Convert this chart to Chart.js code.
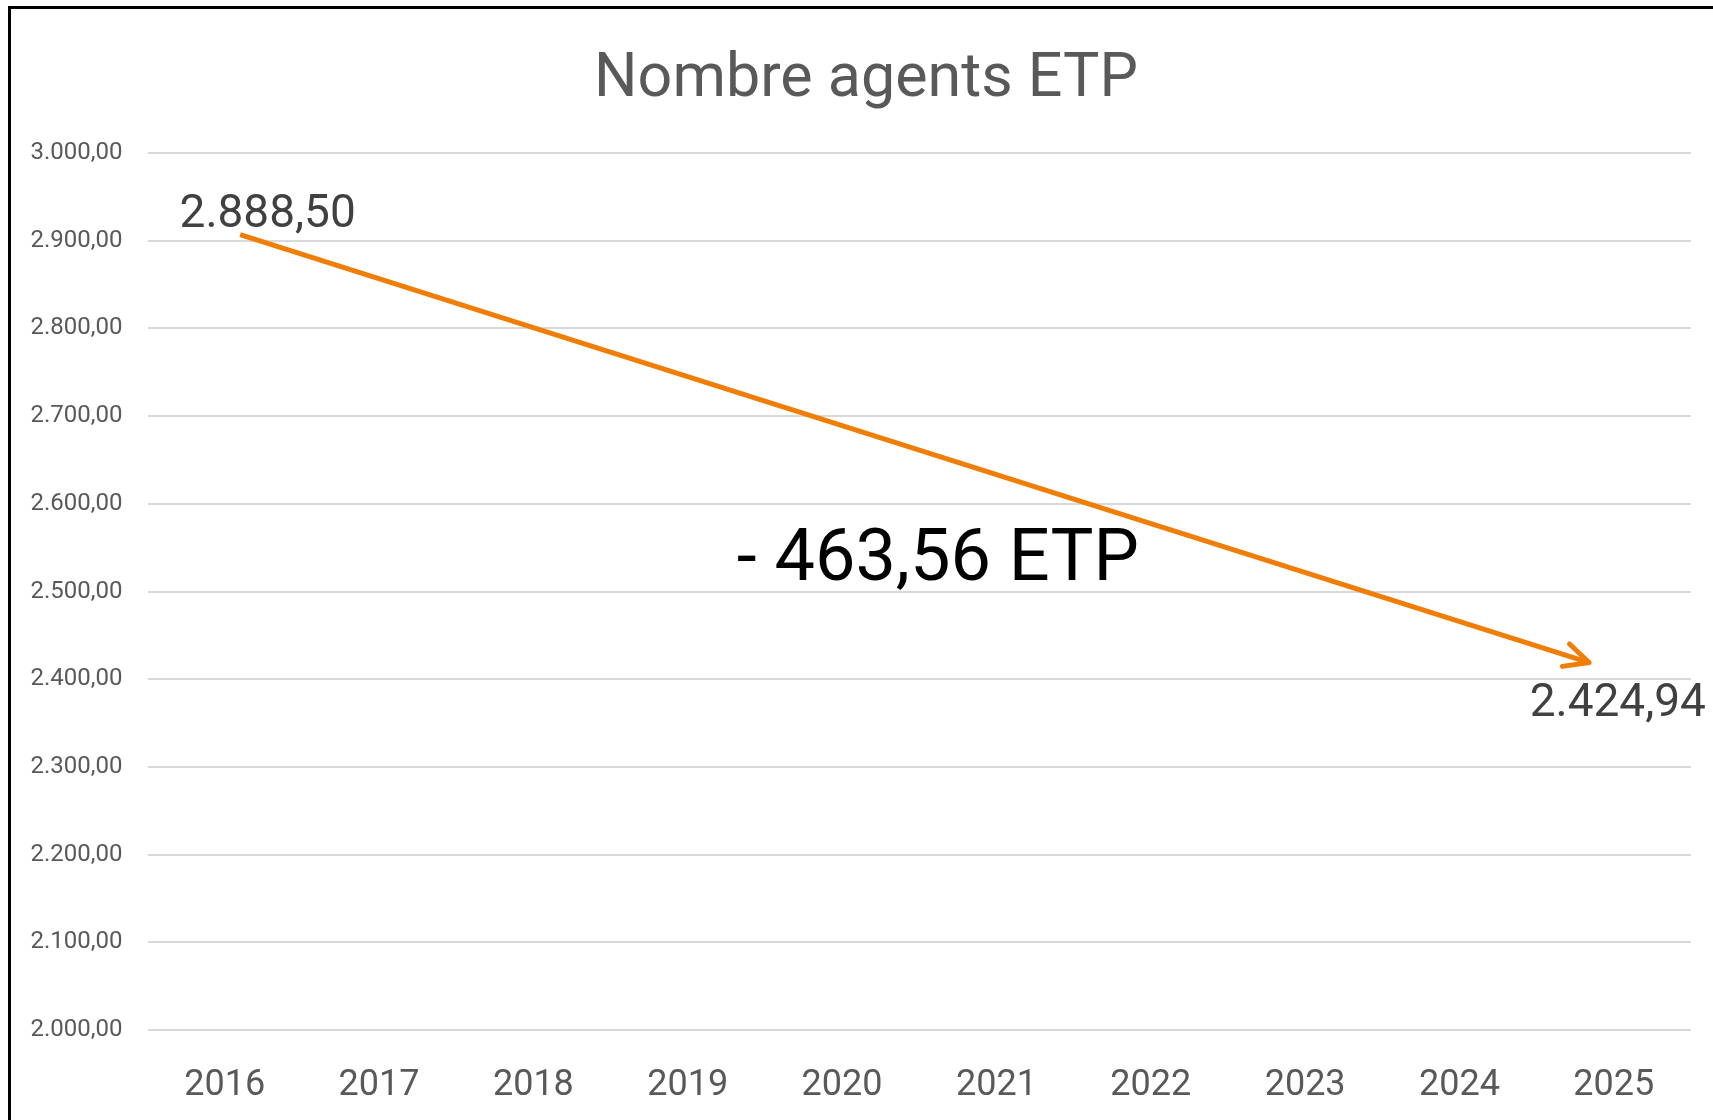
<!DOCTYPE html>
<html lang="fr">
<head>
<meta charset="utf-8">
<title>Nombre agents ETP</title>
<script src="https://cdn.jsdelivr.net/npm/chart.js@4.4.1/dist/chart.umd.min.js"></script>
<style>
  html, body { margin: 0; padding: 0; background: #fff; overflow: hidden; }
  body { width: 1713px; height: 1120px; position: relative; }
  #frame {
    position: absolute; left: 8px; top: 6px; right: 0; bottom: 0;
    border-left: 3px solid #000; border-top: 3px solid #000;
  }
  #chart { display: block; }
</style>
</head>
<body>
<div id="frame"><canvas id="chart"></canvas></div>
<script>
const years = ["2016", "2017", "2018", "2019", "2020", "2021", "2022", "2023", "2024", "2025"];
// only the first and last year carry a value
const etp = [2888.50, null, null, null, null, null, null, null, null, 2424.94];
const yTicks = [2000, 2100, 2200, 2300, 2400, 2500, 2600, 2700, 2800, 2900, 3000];

// the trend arrow, placed on a numeric year axis
const arrowYears = [2016.1, 2024.84];
const arrowValues = [2907, 2419];

const titleText = "Nombre agents ETP";
const orange = "#f07e06";
const grey = "#595959";
const font = "Roboto, 'Noto Sans', sans-serif";

function fmtNum(v, dec = 2) {
  const [i, d] = Math.abs(v).toFixed(dec).split(".");
  const s = i.replace(/\B(?=(\d{3})+(?!\d))/g, ".");
  return (v < 0 ? "-" : "") + s + (d ? "," + d : "");
}

const gap = etp[0] - etp[etp.length - 1];

// title centred on the whole frame, not on the padded layout box
const chartTitle = {
  id: "chartTitle",
  afterDraw(chart) {
    const ctx = chart.ctx;
    ctx.save();
    ctx.font = `61px ${font}`;
    ctx.fillStyle = grey;
    ctx.textAlign = "center";
    ctx.textBaseline = "alphabetic";
    ctx.fillText(titleText, 855, 87);
    ctx.restore();
  },
};

// value labels next to the first and last points
const labelOffsets = { 0: { dx: 43, dy: -24, base: "alphabetic" }, 9: { dx: 4, dy: 24, base: "top" } };

const valueLabels = {
  id: "valueLabels",
  afterDatasetsDraw(chart) {
    const ctx = chart.ctx;
    const meta = chart.getDatasetMeta(0);
    ctx.save();
    ctx.font = `46px ${font}`;
    ctx.fillStyle = "#404040";
    ctx.textAlign = "center";
    meta.data.forEach((pt, i) => {
      if (etp[i] == null) return;
      const o = labelOffsets[i] || { dx: 0, dy: -20, base: "alphabetic" };
      ctx.textBaseline = o.base;
      ctx.fillText(fmtNum(etp[i]), pt.x + o.dx, pt.y + o.dy);
    });
    ctx.restore();
  },
};

const arrowHead = {
  id: "arrowHead",
  afterDatasetsDraw(chart) {
    const pts = chart.getDatasetMeta(1).data;
    if (pts.length < 2) return;
    const a = pts[pts.length - 2], b = pts[pts.length - 1];
    const ang = Math.atan2(b.y - a.y, b.x - a.x);
    const len = 27, spread = 0.45;
    const ctx = chart.ctx;
    ctx.save();
    ctx.strokeStyle = orange;
    ctx.lineWidth = 5;
    ctx.lineCap = "round";
    ctx.lineJoin = "round";
    ctx.beginPath();
    ctx.moveTo(b.x - len * Math.cos(ang - spread), b.y - len * Math.sin(ang - spread));
    ctx.lineTo(b.x, b.y);
    ctx.lineTo(b.x - len * Math.cos(ang + spread), b.y - len * Math.sin(ang + spread));
    ctx.stroke();
    ctx.restore();
  },
};

// the "- 463,56 ETP" caption under the arrow
const gapLabel = {
  id: "gapLabel",
  afterDatasetsDraw(chart) {
    const xa = chart.scales.xa, y = chart.scales.y;
    const ctx = chart.ctx;
    ctx.save();
    ctx.font = `72px ${font}`;
    ctx.fillStyle = "#000";
    ctx.textAlign = "center";
    ctx.textBaseline = "alphabetic";
    ctx.fillText("- " + fmtNum(gap) + " ETP", xa.getPixelForValue(2020.62), y.getPixelForValue(2513));
    ctx.restore();
  },
};

new Chart(document.getElementById("chart"), {
  data: {
    labels: years,
    datasets: [
      {
        type: "line",
        label: titleText,
        data: etp,
        showLine: false,
        pointRadius: 0,
        xAxisID: "x",
      },
      {
        type: "line",
        label: "tendance",
        data: arrowYears.map((x, i) => ({ x, y: arrowValues[i] })),
        borderColor: orange,
        borderWidth: 5,
        pointRadius: 0,
        xAxisID: "xa",
      },
    ],
  },
  options: {
    responsive: true,
    maintainAspectRatio: false,
    animation: false,
    layout: { padding: { left: 0, right: 22, top: 144, bottom: 15 } },
    scales: {
      x: {
        type: "category",
        offset: true,
        afterFit: (s) => { s.height = 75; },
        grid: { display: false, drawTicks: false },
        border: { display: false },
        ticks: { color: grey, font: { family: font, size: 36 }, padding: 34, maxRotation: 0 },
      },
      xa: {
        type: "linear",
        display: false,
        min: 2015.5,
        max: 2025.5,
      },
      y: {
        min: yTicks[0],
        max: yTicks[yTicks.length - 1],
        afterBuildTicks: (s) => { s.ticks = yTicks.map((v) => ({ value: v })); },
        afterFit: (s) => { s.width = 136.5; },
        grid: { color: "#d9d9d9", lineWidth: 2, drawTicks: false },
        border: { display: false },
        ticks: {
          color: grey,
          font: { family: font, size: 24 },
          padding: 25,
          callback: (v) => fmtNum(v),
        },
      },
    },
    plugins: {
      legend: { display: false },
      tooltip: { enabled: false },
      title: { display: false },
    },
  },
  plugins: [chartTitle, valueLabels, arrowHead, gapLabel],
});
</script>
</body>
</html>
